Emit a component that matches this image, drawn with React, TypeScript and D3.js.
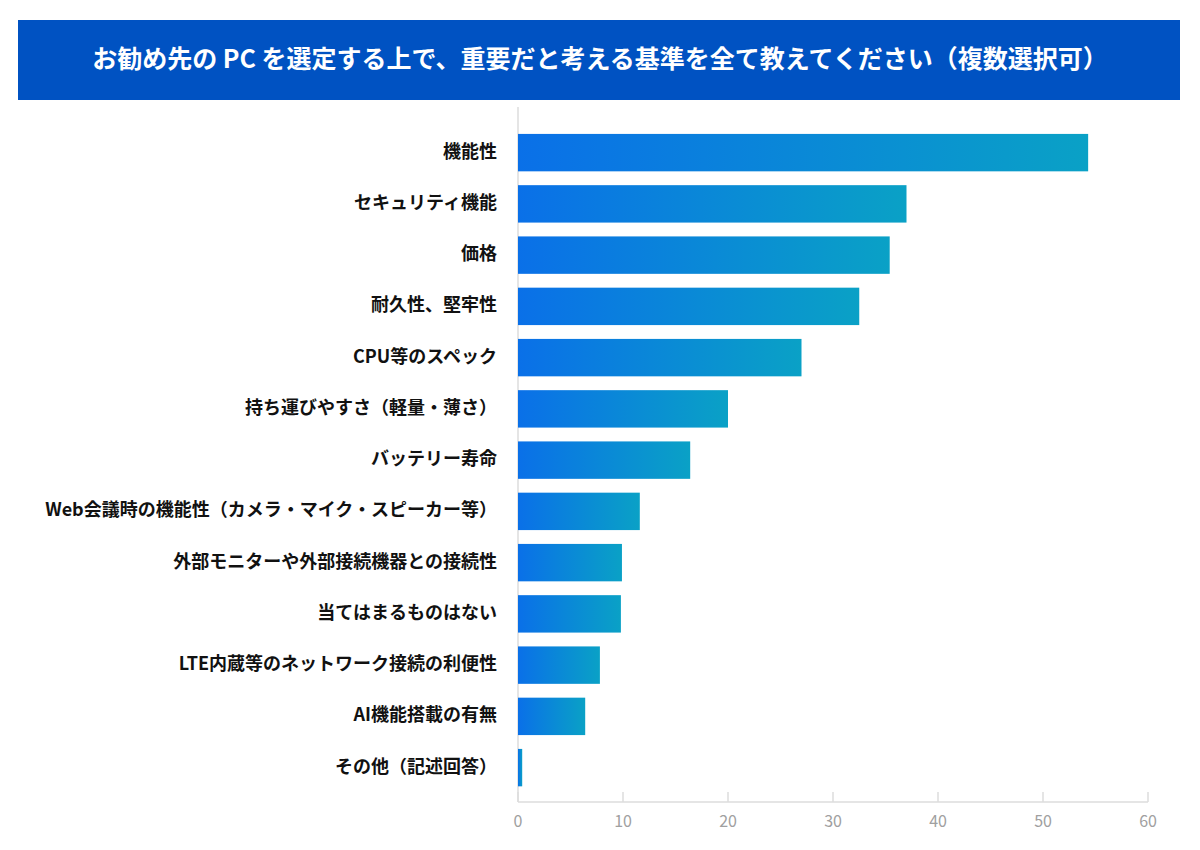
import { useEffect, useRef } from "react";
import * as d3 from "d3";

const categories = [
  "機能性",
  "セキュリティ機能",
  "価格",
  "耐久性、堅牢性",
  "CPU等のスペック",
  "持ち運びやすさ（軽量・薄さ）",
  "バッテリー寿命",
  "Web会議時の機能性（カメラ・マイク・スピーカー等）",
  "外部モニターや外部接続機器との接続性",
  "当てはまるものはない",
  "LTE内蔵等のネットワーク接続の利便性",
  "AI機能搭載の有無",
  "その他（記述回答）",
];
const values = [54.3, 37.0, 35.4, 32.5, 27.0, 20.0, 16.4, 11.6, 9.9, 9.8, 7.8, 6.4, 0.4];
const ticks = [0, 10, 20, 30, 40, 50, 60];
const title = "お勧め先の PC を選定する上で、重要だと考える基準を全て教えてください（複数選択可）";

const FONT = "'Noto Sans CJK JP', 'Noto Sans', sans-serif";

export default function App() {
  const ref = useRef<SVGSVGElement | null>(null);

  useEffect(() => {
    const svg = d3.select(ref.current!);
    svg.selectAll("*").remove();

    const x = d3.scaleLinear().domain([0, 60]).range([518, 1148]);
    const y = d3
      .scaleBand<string>()
      .domain(categories)
      .range([127, 793.25])
      .paddingInner(0.27)
      .paddingOuter(0.135);

    const defs = svg.append("defs");
    const grad = defs
      .append("linearGradient")
      .attr("id", "barGrad")
      .attr("x1", "0")
      .attr("x2", "1")
      .attr("y1", "0")
      .attr("y2", "0");
    grad.append("stop").attr("offset", "0").attr("stop-color", "#0a70e8");
    grad.append("stop").attr("offset", "1").attr("stop-color", "#0aa1c6");

    // title banner
    svg.append("rect").attr("x", 18).attr("y", 20).attr("width", 1162).attr("height", 80).attr("fill", "#0052c2");
    svg
      .append("text")
      .attr("x", 600)
      .attr("y", 61)
      .attr("text-anchor", "middle")
      .attr("dominant-baseline", "middle")
      .attr("fill", "#fff")
      .attr("font-size", 25)
      .attr("font-weight", 700)
      .attr("font-family", FONT)
      .text(title);

    // axes
    svg.append("line").attr("x1", 518).attr("x2", 518).attr("y1", 107).attr("y2", 802).attr("stroke", "#dcdcdc").attr("stroke-width", 1.5);
    svg.append("line").attr("x1", 518).attr("x2", 1148).attr("y1", 802).attr("y2", 802).attr("stroke", "#dcdcdc").attr("stroke-width", 1.5);

    const tg = svg.append("g").selectAll("g").data(ticks).join("g").attr("transform", (d) => `translate(${x(d)},0)`);
    tg.append("line").attr("y1", 792).attr("y2", 802).attr("stroke", "#dcdcdc").attr("stroke-width", 1.5);
    tg.append("text")
      .attr("y", 823)
      .attr("text-anchor", "middle")
      .attr("dominant-baseline", "middle")
      .attr("fill", "#a0a0a0")
      .attr("font-size", 16)
      .attr("font-family", FONT)
      .text((d) => String(d));

    // bars
    svg
      .append("g")
      .selectAll("rect")
      .data(categories)
      .join("rect")
      .attr("x", x(0))
      .attr("y", (d) => y(d)!)
      .attr("width", (_d, i) => x(values[i]) - x(0))
      .attr("height", y.bandwidth())
      .attr("fill", "url(#barGrad)");

    svg
      .append("g")
      .selectAll("text")
      .data(categories)
      .join("text")
      .attr("x", 497)
      .attr("y", (d) => y(d)! + y.bandwidth() / 2)
      .attr("text-anchor", "end")
      .attr("dominant-baseline", "middle")
      .attr("fill", "#111")
      .attr("font-size", 18)
      .attr("font-weight", 700)
      .attr("font-family", FONT)
      .text((d) => d);
  }, []);

  return (
    <svg
      ref={ref}
      width={1200}
      height={850}
      style={{ display: "block", position: "absolute", left: 0, top: 0, background: "#fff" }}
    />
  );
}
